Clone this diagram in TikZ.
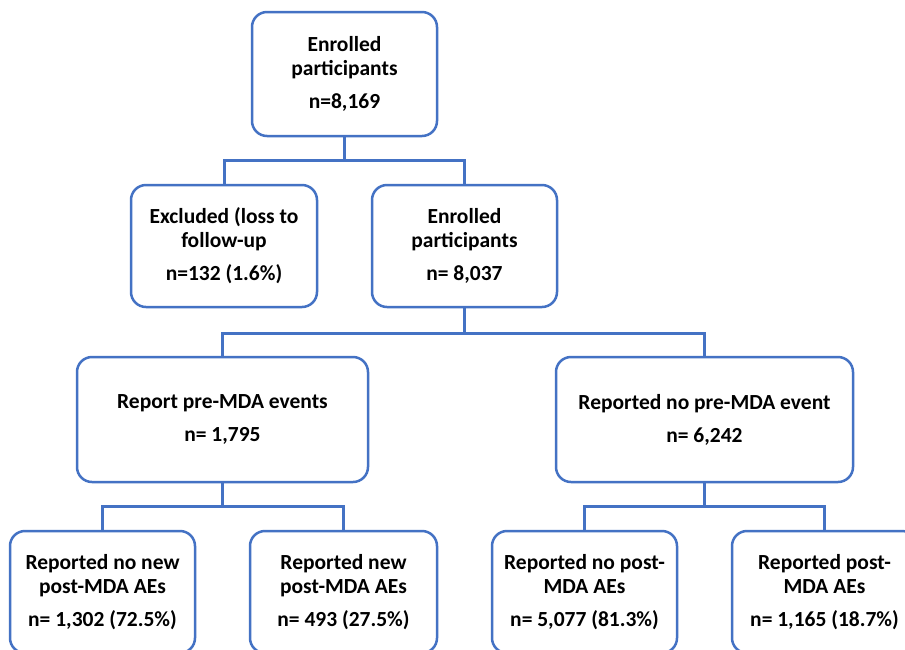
\documentclass[tikz,border=0pt]{standalone}
\usepackage{fontspec}
\setmainfont{Carlito}
\definecolor{lineblue}{HTML}{4472C4}
\tikzset{
  box/.style={draw=lineblue, line width=2.5pt, rounded corners=15pt, fill=white,
    align=center, inner sep=0pt, font=\bfseries\fontsize{21.5}{24}\selectfont},
  conn/.style={draw=lineblue, line width=3pt}
}
\begin{document}
\begin{tikzpicture}[x=1pt,y=-1pt]
\path[use as bounding box, clip] (0,0) rectangle (905,649);
\fill[white] (0,0) rectangle (905,649);
\node[box, minimum width=185, minimum height=124] (top) at (344.5,74) {Enrolled\\participants\\[9pt]n=8,169};
\node[box, minimum width=186, minimum height=122] (excl) at (224,246) {Excluded (loss to\\follow-up\\[9pt]n=132 (1.6\%)};
\node[box, minimum width=185, minimum height=122] (enr) at (464.5,246) {Enrolled\\participants\\[9pt]n= 8,037};
\node[box, minimum width=291, minimum height=125] (pre) at (222.5,419.5) {Report pre-MDA events\\[9pt]n= 1,795};
\node[box, minimum width=297, minimum height=125] (nopre) at (704.5,419.5) {Reported no pre-MDA event\\[9pt]n= 6,242};
\node[box, minimum width=185, minimum height=122] (b1) at (102.5,592) {Reported no new\\post-MDA AEs\\[9pt]n= 1,302 (72.5\%)};
\node[box, minimum width=187, minimum height=122] (b2) at (343.5,592) {Reported new\\post-MDA AEs\\[9pt]n= 493 (27.5\%)};
\node[box, minimum width=185, minimum height=122] (b3) at (584.5,592) {Reported no post-\\MDA AEs\\[9pt]n= 5,077 (81.3\%)};
\node[box, minimum width=185, minimum height=122] (b4) at (824.5,592) {Reported post-\\MDA AEs\\[9pt]n= 1,165 (18.7\%)};
\coordinate (j1) at (top.south |- 0,160);
\coordinate (j2) at (enr.south |- 0,333);
\coordinate (j3) at (pre.south |- 0,506);
\coordinate (j4) at (nopre.south |- 0,506);
\draw[conn] (top.south) -- (j1);
\draw[conn] (excl.north) |- (j1) -| (enr.north);
\draw[conn] (enr.south) -- (j2);
\draw[conn] (pre.north) |- (j2) -| (nopre.north);
\draw[conn] (pre.south) -- (j3);
\draw[conn] (b1.north) |- (j3) -| (b2.north);
\draw[conn] (nopre.south) -- (j4);
\draw[conn] (b3.north) |- (j4) -| (b4.north);
\end{tikzpicture}
\end{document}
